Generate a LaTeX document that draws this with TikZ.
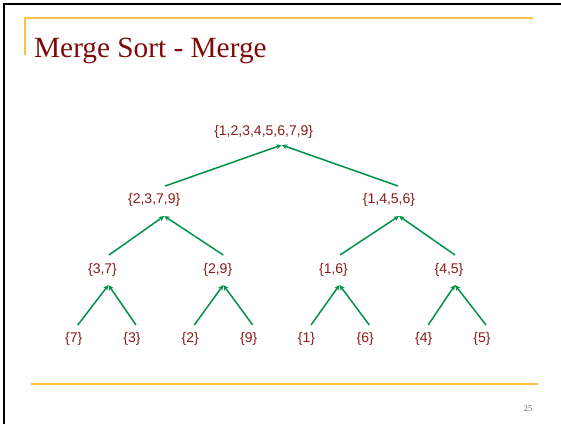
\documentclass[tikz,border=0pt]{standalone}
\usepackage{fontspec}
\setmainfont{Liberation Serif}
\newfontfamily\nodefont{Liberation Sans}
\usetikzlibrary{arrows.meta,calc}
\definecolor{txtred}{RGB}{140,26,26}
\definecolor{titlered}{RGB}{128,10,10}
\definecolor{arrgreen}{RGB}{0,146,72}
\definecolor{barorange}{RGB}{255,192,70}
\tikzset{
  setnode/.style={inner sep=0pt, text=txtred, font=\nodefont\fontsize{14}{16}\selectfont},
  mergearrow/.style={draw=arrgreen, line width=1.5pt, -{Stealth[length=5.5pt,width=5pt]}},
  orangebar/.style={draw=barorange, line width=1.3pt},
}
\begin{document}
\begin{tikzpicture}[x=1pt,y=1pt]
\useasboundingbox (0,0) rectangle (561,424);
\fill[white] (0,0) rectangle (561,424);
% slide frame
\draw[black, line width=2pt] (4,0) -- (4,419.5) -- (561,419.5);
\draw[orangebar] (25,369) -- (25,406) -- (533,406);
\draw[orangebar] (31,40) -- (538,40);
\node[anchor=base west, inner sep=0pt, text=titlered, font=\fontsize{29.3}{32}\selectfont] (title) at (34,366.7) {Merge Sort - Merge};
\node[inner sep=0pt, text=black!55, font=\fontsize{9}{10}\selectfont] (page) at (528,15) {25};
% nodes
\node[setnode] (r) at (263.7,292) {\{1,2,3,4,5,6,7,9\}};
\node[setnode] (a) at (154.2,224) {\{2,3,7,9\}};
\node[setnode] (b) at (389,224) {\{1,4,5,6\}};
\node[setnode] (a1) at (102.5,154) {\{3,7\}};
\node[setnode] (a2) at (217.8,154) {\{2,9\}};
\node[setnode] (b1) at (333.5,154) {\{1,6\}};
\node[setnode] (b2) at (449,154) {\{4,5\}};
\node[setnode] (l1) at (73.8,85) {\{7\}};
\node[setnode] (l2) at (132,85) {\{3\}};
\node[setnode] (l3) at (190.3,85) {\{2\}};
\node[setnode] (l4) at (248.7,85) {\{9\}};
\node[setnode] (l5) at (306.5,85) {\{1\}};
\node[setnode] (l6) at (365.3,85) {\{6\}};
\node[setnode] (l7) at (423.7,85) {\{4\}};
\node[setnode] (l8) at (482,85) {\{5\}};
% connectors
\draw[mergearrow] ($(a)+(11,14)$) -- ($(r)+(18,-13)$);
\draw[mergearrow] ($(b)+(9,14)$) -- ($(r)+(18,-13)$);
\draw[mergearrow] ($(a1)+(6.5,15)$) -- ($(a)+(10,-16)$);
\draw[mergearrow] ($(a2)+(5.5,15)$) -- ($(a)+(10,-16)$);
\draw[mergearrow] ($(b1)+(6.5,15)$) -- ($(b)+(10,-16)$);
\draw[mergearrow] ($(b2)+(6,15)$) -- ($(b)+(10,-16)$);
\draw[mergearrow] ($(l1)+(4,14)$) -- ($(a1)+(6,-15)$);
\draw[mergearrow] ($(l2)+(4,14)$) -- ($(a1)+(6,-15)$);
\draw[mergearrow] ($(l3)+(4,14)$) -- ($(a2)+(5.5,-15)$);
\draw[mergearrow] ($(l4)+(4,14)$) -- ($(a2)+(5.5,-15)$);
\draw[mergearrow] ($(l5)+(4.5,14)$) -- ($(b1)+(6,-15)$);
\draw[mergearrow] ($(l6)+(4,14)$) -- ($(b1)+(6,-15)$);
\draw[mergearrow] ($(l7)+(4.5,14)$) -- ($(b2)+(6,-15)$);
\draw[mergearrow] ($(l8)+(4,14)$) -- ($(b2)+(6,-15)$);
\end{tikzpicture}
\end{document}
